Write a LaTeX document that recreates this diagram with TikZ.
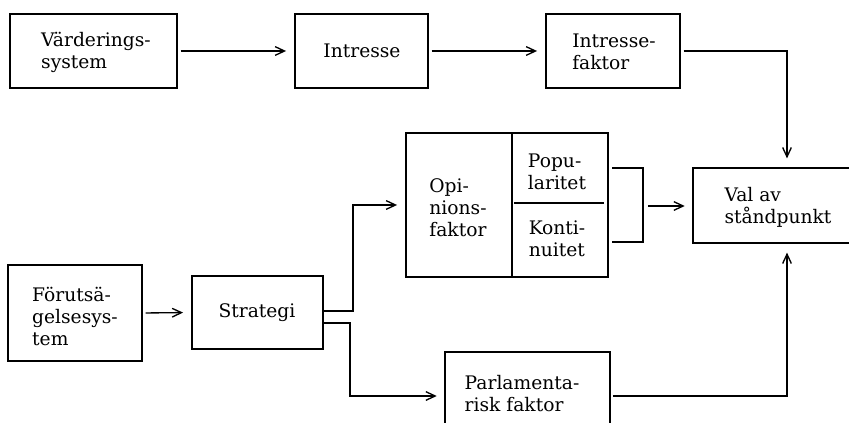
\documentclass[tikz,border=0pt]{standalone}
\usepackage{fontspec}
\setmainfont{DejaVu Serif}
\usetikzlibrary{arrows.meta,fit}
\begin{document}
\begin{tikzpicture}[x=0.75pt,y=-0.75pt,
  box/.style={draw, line width=1.4pt, inner sep=0pt},
  openbox/.style={inner sep=0pt},
  txt/.style={align=left, inner sep=0pt, font=\fontsize{14}{16.5}\selectfont},
  conn/.style={line width=1pt},
  arr/.style={conn, -{Straight Barb[length=7pt,width=6.5pt]}, shorten >=6pt, shorten <=2pt},
  divline/.style={line width=1.1pt}]
\useasboundingbox (0,0) rectangle (849,423);
\coordinate (edgeR) at (849,0);
\coordinate (edgeB) at (0,423);
% top row
\node[box, fit={(10,14) (177,88)}] (vs) {};
\node[txt] (vsT) at (96,52) {Värderings-\\system};
\node[box, fit={(295,14) (428,88)}] (intr) {};
\node[txt] (intrT) at (362,51) {Intresse};
\node[box, fit={(546,14) (680,88)}] (ifak) {};
\node[txt] (ifakT) at (614,52) {Intresse-\\faktor};
% val av standpunkt (open at right edge)
\node[openbox, fit={(693,168) (864,243)}] (valbox) {};
\node[txt] (valT) at (778,207) {Val av\\ståndpunkt};
\draw[line width=1.4pt] (edgeR |- valbox.north) -- (valbox.north west) -- (valbox.south west) -- (edgeR |- valbox.south);
% opinion box
\node[box, fit={(406,133) (608,277)}] (op) {};
\coordinate (divx) at (512,0);
\draw[line width=1.4pt] (divx |- op.north) -- (divx |- op.south);
\coordinate (hd1) at (514,203);
\coordinate (hd2) at (604,203);
\draw[divline] (hd1) -- (hd2);
\node[txt] (opT) at (458,208) {Opi-\\nions-\\faktor};
\node[txt] (popT) at (557,172) {Popu-\\laritet};
\node[txt] (konT) at (557,239) {Konti-\\nuitet};
% bottom row
\node[box, fit={(8,265) (142,361)}] (fs) {};
\node[txt] (fsT) at (75,316) {Förutsä-\\gelsesys-\\tem};
\node[box, fit={(192,276) (323,349)}] (st) {};
\node[txt] (stT) at (257,313) {Strategi};
% parlamentarisk (open at bottom edge)
\node[openbox, fit={(445,352) (610,440)}] (par) {};
\node[txt] (parT) at (522,394) {Parlamenta-\\risk faktor};
\draw[line width=1.4pt] (par.south west |- edgeB) -- (par.north west) -- (par.north east) -- (par.south east |- edgeB);
% connectors top row
\draw[arr] (vs.east) -- (intr.west);
\draw[arr] (intr.east) -- (ifak.west);
\coordinate (vx) at (787,0);
\draw[arr, shorten >=7pt] (ifak.east) -| (vx |- valbox.north);
% bracket from opinion box
\coordinate (bt) at (612,168);
\coordinate (bm) at (643,206);
\coordinate (bb) at (612,242);
\draw[conn] (bt) -| (bm) |- (bb);
\draw[arr, shorten <=4pt] (bm) -- (bm -| valbox.west);
% bottom connectors
\draw[arr] (fs.east) -- (st.west);
\coordinate (s1) at (353,311);
\coordinate (s2) at (350,323);
\draw[arr, shorten <=0pt] (st.east |- s1) -- (s1) |- (op.west);
\draw[arr, shorten <=0pt] (st.east |- s2) -- (s2) |- (par.west);
\draw[arr, shorten <=2pt, shorten >=7pt] (par.east) -| (vx |- valbox.south);
\end{tikzpicture}
\end{document}
